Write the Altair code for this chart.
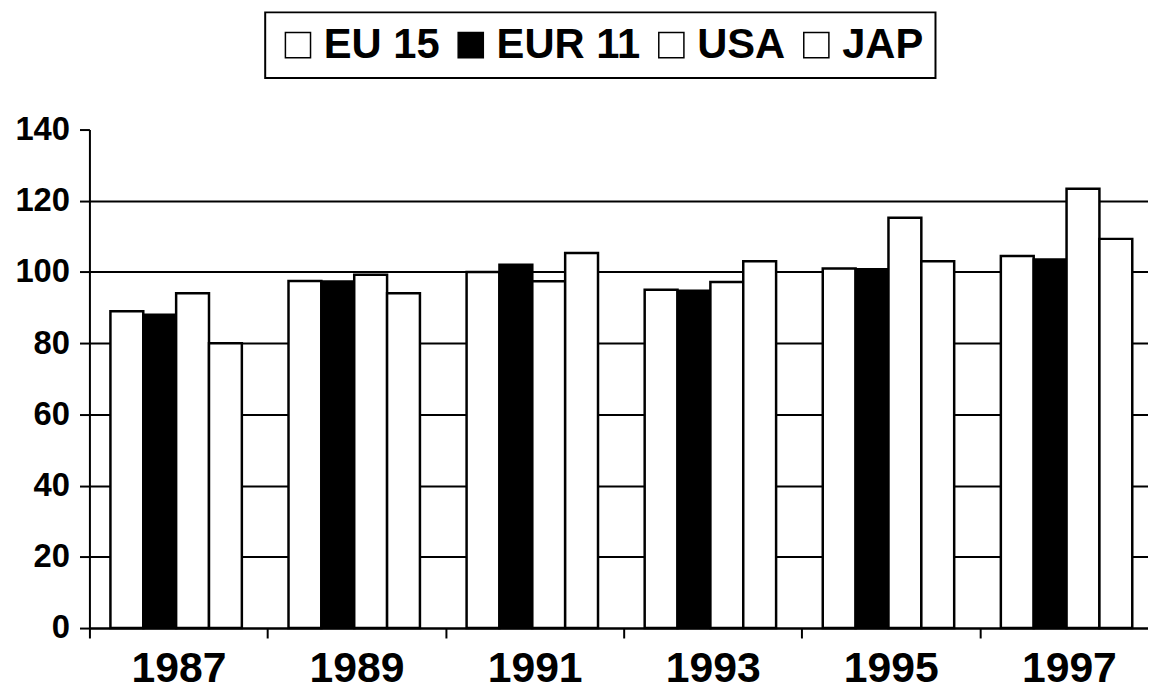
import altair as alt
import pandas as pd

years = ["1987", "1989", "1991", "1993", "1995", "1997"]
series = ["EU 15", "EUR 11", "USA", "JAP"]
eu15 = [89, 97.5, 100, 95, 101, 104.5]
eur11 = [88, 97.3, 102, 94.7, 100.8, 103.5]
usa = [94, 99.2, 97.4, 97.2, 115.2, 123.4]
jap = [80, 94, 105.3, 103, 103, 109.3]
y_ticks = [0, 20, 40, 60, 80, 100, 120, 140]
fill_colors = ["white", "black", "white", "white"]

rows = []
for s, vals in zip(series, [eu15, eur11, usa, jap]):
    for yr, v in zip(years, vals):
        rows.append({"year": yr, "series": s, "value": v})
df = pd.DataFrame(rows)

font = "Liberation Sans"

chart = alt.Chart(df).mark_bar(stroke="black", strokeWidth=2.5).encode(
    x=alt.X(
        "year:N", sort=years,
        scale=alt.Scale(range=[0, 1076], paddingInner=0, paddingOuter=0),
        axis=alt.Axis(
            title=None, labelAngle=0, tickBand="extent", grid=False,
            domainColor="black", domainWidth=2, tickColor="black", tickWidth=2,
            tickSize=10, labelFont=font, labelFontSize=43, labelFontWeight="bold",
            labelColor="black", labelPadding=10,
        ),
    ),
    xOffset=alt.XOffset(
        "series:N", sort=series,
        scale=alt.Scale(paddingInner=0, paddingOuter=0.71, align=0.45),
    ),
    y=alt.Y(
        "value:Q",
        scale=alt.Scale(domain=[0, 140], nice=False),
        axis=alt.Axis(
            title=None, values=y_ticks, grid=True, gridColor="black", gridWidth=2,
            gridOpacity=alt.condition("datum.value == 140", alt.value(0), alt.value(1)),
            domainColor="black", domainWidth=2, tickColor="black", tickWidth=2,
            tickSize=10, labelFont=font, labelFontSize=33, labelFontWeight="bold",
            labelColor="black", labelPadding=10,
        ),
    ),
    fill=alt.Fill(
        "series:N", sort=series,
        scale=alt.Scale(domain=series, range=fill_colors),
        legend=alt.Legend(
            title=None, orient="none", legendX=177, legendY=-118,
            direction="horizontal", columns=4, symbolType="square",
            symbolSize=640, symbolStrokeColor="black", symbolStrokeWidth=1.5,
            labelFont=font, labelFontSize=42, labelFontWeight="bold",
            labelColor="black", strokeColor="black", padding=12,
            columnPadding=10, labelOffset=5,
        ),
    ),
).properties(
    width=1060, height=502,
    autosize=alt.AutoSizeParams(type="none"),
    padding={"left": 82, "top": 120, "right": 6, "bottom": 65},
).configure_view(stroke=None).configure_legend(strokeWidth=2)

chart.save("out.html", embed_options={"renderer": "svg", "actions": False})
